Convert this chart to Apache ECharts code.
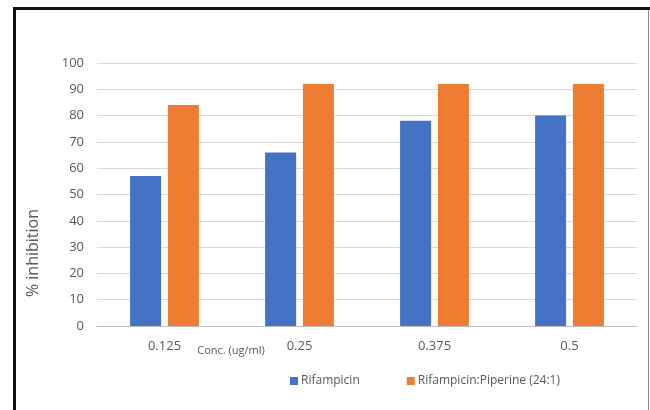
<!DOCTYPE html>
<html>
<head>
<meta charset="utf-8">
<style>
  html, body { margin: 0; padding: 0; background: #fff; }
  #chart { width: 650px; height: 410px; }
</style>
<script src="https://cdn.jsdelivr.net/npm/echarts@6/dist/echarts.min.js"></script>
</head>
<body>
<div id="chart"></div>
<script>
// Concentration groups (ug/ml)
const categories = ['0.125', '0.25', '0.375', '0.5'];
// % inhibition per series
const rifampicin = [57, 66, 78, 80];
const rifPiperine = [84, 92, 92, 92];
const seriesNames = ['Rifampicin', 'Rifampicin:Piperine (24:1)'];
const yTicks = { min: 0, max: 100, interval: 10 };

const chart = echarts.init(document.getElementById('chart'), null, { renderer: 'canvas' });
const font = '"Open Sans", "Liberation Sans", sans-serif';

chart.setOption({
  animation: false,
  backgroundColor: '#ffffff',
  grid: { left: 97, right: 13, top: 63, bottom: 84 },
  legend: {
    data: seriesNames,
    left: 285,
    top: 370,
    itemWidth: 8,
    itemHeight: 8,
    itemGap: 47,
    icon: 'rect',
    textStyle: { color: '#595959', fontSize: 12, fontFamily: font, padding: [0, 0, 0, -2] }
  },
  xAxis: {
    type: 'category',
    data: categories,
    axisLine: { lineStyle: { color: '#bfbfbf', width: 1 } },
    axisTick: { show: false },
    axisLabel: { color: '#595959', fontSize: 13, fontFamily: font, margin: 14 }
  },
  yAxis: {
    type: 'value',
    min: yTicks.min,
    max: yTicks.max,
    interval: yTicks.interval,
    axisLine: { show: false },
    axisTick: { show: false },
    axisLabel: { color: '#595959', fontSize: 13, fontFamily: font, margin: 13 },
    splitLine: { lineStyle: { color: '#d9d9d9', width: 1 } }
  },
  series: [
    {
      name: seriesNames[0],
      type: 'bar',
      data: rifampicin,
      itemStyle: { color: '#4472C4' },
      barWidth: 31,
      barGap: '22%'
    },
    {
      name: seriesNames[1],
      type: 'bar',
      data: rifPiperine,
      itemStyle: { color: '#ED7D31' },
      barWidth: 31,
      barGap: '22%'
    }
  ],
  graphic: [
    // frame: thick black left and top edges, thin grey right edge
    { type: 'line', shape: { x1: 14.5, y1: 7, x2: 14.5, y2: 410 }, style: { stroke: '#111', lineWidth: 3 } },
    { type: 'line', shape: { x1: 13, y1: 8.5, x2: 650, y2: 8.5 }, style: { stroke: '#111', lineWidth: 3 } },
    { type: 'line', shape: { x1: 648.5, y1: 10, x2: 648.5, y2: 410 }, style: { stroke: '#888', lineWidth: 1 } },
    // y-axis title
    {
      type: 'text',
      x: 33, y: 253,
      rotation: Math.PI / 2,
      style: {
        text: '% inhibition',
        fill: '#595959',
        font: '16px ' + font,
        align: 'center',
        verticalAlign: 'middle'
      }
    },
    // x-axis title
    {
      type: 'text',
      x: 231, y: 351,
      style: {
        text: 'Conc. (ug/ml)',
        fill: '#595959',
        font: '11px ' + font,
        align: 'center',
        verticalAlign: 'middle'
      }
    }
  ]
});
</script>
</body>
</html>
